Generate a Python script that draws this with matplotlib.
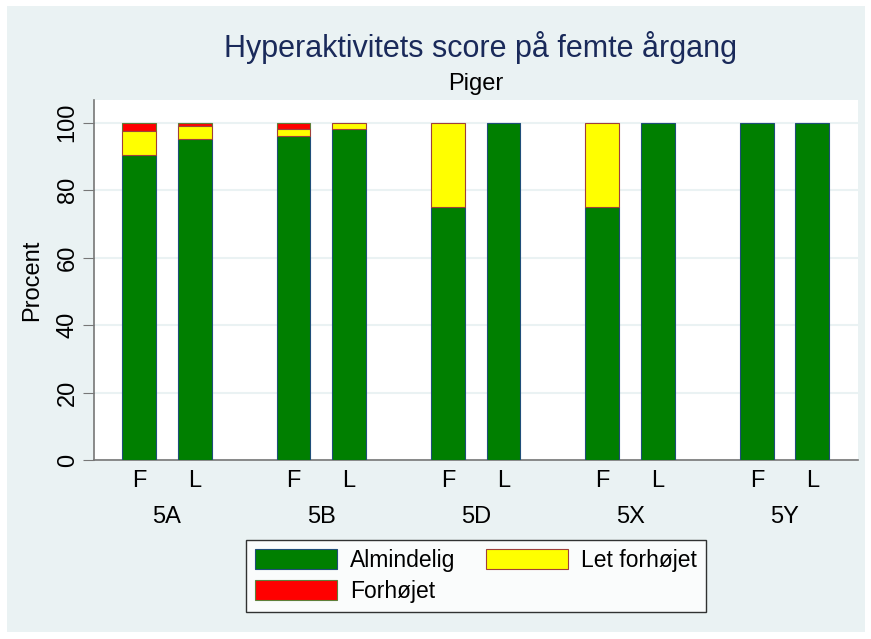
#!/usr/bin/env python3

import numpy as np
import matplotlib.pyplot as plt
from matplotlib.patches import Rectangle
from matplotlib.transforms import blended_transform_factory

plt.rcParams['font.family'] = ['Liberation Sans', 'DejaVu Sans']

groups = ['5A', '5B', '5D', '5X', '5Y']
subbars = ['F', 'L']

# percent per class, order: 5A F, 5A L, 5B F, 5B L, ...
almindelig = [90.5, 95.2, 95.9, 98.0, 75.0, 100.0, 75.0, 100.0, 100.0, 100.0]
let_forhojet = [7.1, 3.7, 2.2, 2.0, 25.0, 0.0, 25.0, 0.0, 0.0, 0.0]
forhojet = [2.4, 1.1, 1.9, 0.0, 0.0, 0.0, 0.0, 0.0, 0.0, 0.0]

bg = '#EAF2F3'

fig = plt.figure(figsize=(8.71, 6.39), dpi=100)
fig.patches.append(Rectangle((7/871, 1-632/639), 858/871, 626/639,
                             transform=fig.transFigure, facecolor=bg,
                             edgecolor='none', zorder=-10))
ax = fig.add_axes([94/871, 1-460/639, 764/871, 360/639])

pos = np.array([g*2.78 + s for g in range(len(groups)) for s in range(len(subbars))])
w = 0.61

alm = np.array(almindelig)
let = np.array(let_forhojet)
fh = np.array(forhojet)

def lw(vals):
    return [0.8 if v > 0 else 0 for v in vals]

ax.bar(pos, alm, w, color='#007F00', edgecolor='#1F4E79', linewidth=lw(alm),
       label='Almindelig', zorder=3)
ax.bar(pos, fh, w, bottom=alm+let, color='#FF0000', edgecolor='#5E7F3A',
       linewidth=lw(fh), label='Forhøjet', zorder=3)
ax.bar(pos, let, w, bottom=alm, color='#FFFF00', edgecolor='#A0403A',
       linewidth=lw(let), label='Let forhøjet', zorder=3)

ax.set_xlim(-0.81, pos[-1] + 0.82)
ax.set_ylim(0, 106.7)
ax.set_yticks(range(0, 101, 20))
ax.tick_params(axis='y', labelsize=17, rotation=90, length=8, color='#777777', pad=3)
for t in ax.get_yticklabels():
    t.set_va('center')
ax.set_xticks(pos)
ax.set_xticklabels(subbars * len(groups), fontsize=17)
ax.tick_params(axis='x', length=0, pad=7)

trans = blended_transform_factory(ax.transData, ax.transAxes)
for g, name in enumerate(groups):
    ax.text(pos[2*g:2*g+2].mean(), -0.158, name, transform=trans,
            ha='center', va='center', fontsize=17)

ax.grid(axis='y', color=bg, linewidth=1.5, zorder=0)
for s in ['top', 'right']:
    ax.spines[s].set_visible(False)
for s in ['left', 'bottom']:
    ax.spines[s].set_color('#777777')
    ax.spines[s].set_linewidth(1.2)

ax.set_ylabel('Procent', fontsize=17)
ax.yaxis.set_label_coords(-(94-43)/764, 0.5)

fig.text(480/871, 1-47/639, 'Hyperaktivitets score på femte årgang',
         ha='center', va='center', fontsize=22, color='#1A2A5A')
fig.text(476/871, 1-84/639, 'Piger', ha='center', va='center', fontsize=17)

h, l = ax.get_legend_handles_labels()
leg = fig.legend(h, l, ncol=2, loc='center', bbox_to_anchor=(476/871, 1-576/639),
                 fontsize=16.5, frameon=True, fancybox=False, edgecolor='black',
                 handlelength=3.58, handleheight=0.96, handletextpad=0.57,
                 columnspacing=1.35, labelspacing=0.35, borderpad=0.4)
leg.get_frame().set_linewidth(1.0)

fig.savefig('out.png', dpi=100)
